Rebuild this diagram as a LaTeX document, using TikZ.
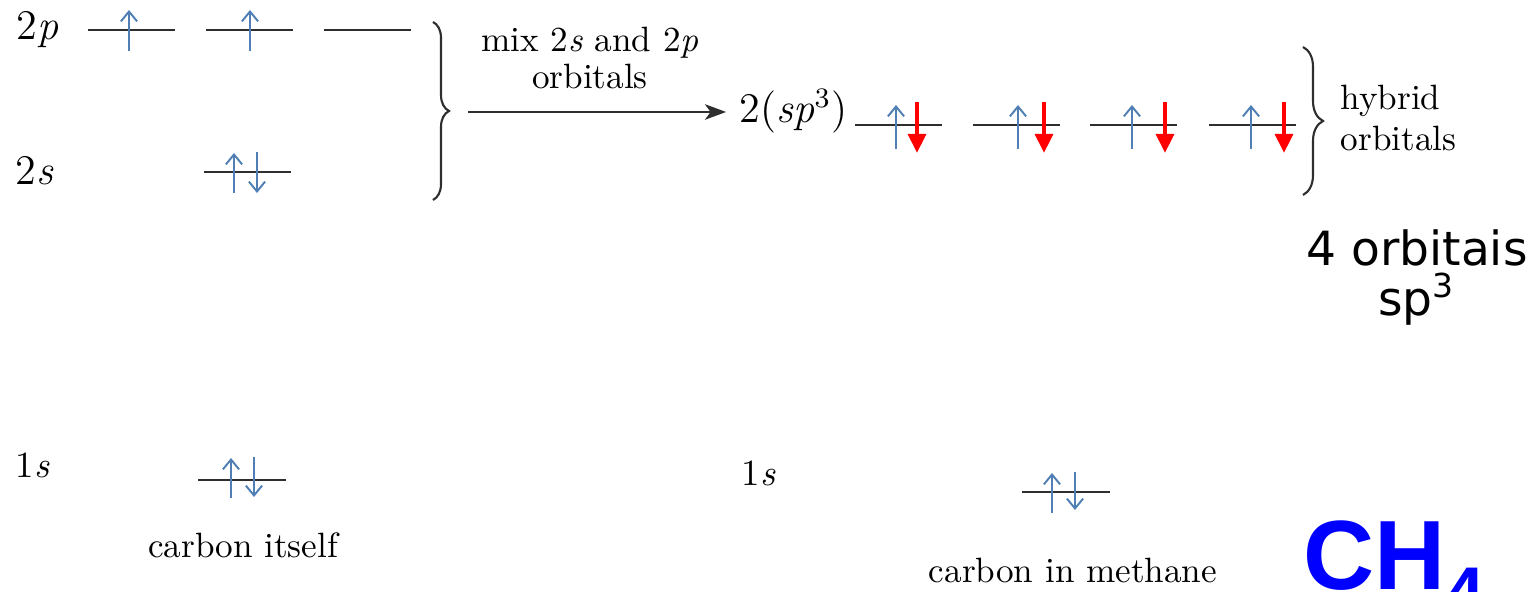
\documentclass[tikz,border=0pt]{standalone}
\usepackage{fontspec}
\newfontfamily\notesans{DejaVu Sans}
\newfontfamily\formulasans{Liberation Sans}
\usepackage{tikz}
\usetikzlibrary{arrows.meta,positioning,calc,decorations.pathreplacing}
\definecolor{levelInk}{HTML}{2E2E2E}
\definecolor{spinBlue}{HTML}{4F7FB5}
\definecolor{spinRed}{HTML}{FF0000}
\definecolor{methaneBlue}{HTML}{0000FF}

\begin{document}
\begin{tikzpicture}[x=0.01cm,y=-0.01cm,font=\fontsize{10}{11}\selectfont,
    orbline/.style={draw=levelInk,line width=0.75pt},
    spin/.style={draw=spinBlue,line width=0.55pt,-{Straight Barb[length=2.8pt,width=4.6pt]}},
    spinred/.style={draw=spinRed,line width=1.2pt,-{Triangle[length=5.4pt,width=5pt]}},
    shelllabel/.style={font=\fontsize{12}{14}\selectfont,inner sep=0pt,anchor=base west},
    captext/.style={inner sep=0pt,anchor=base},
    mixarrow/.style={draw=levelInk,line width=0.65pt,-{Stealth[length=6pt,width=4.4pt,inset=1.6pt]}},
    orbbrace/.style={draw=levelInk,line width=0.6pt,decorate,decoration={brace,amplitude=#1}}]
  \useasboundingbox (0,0) rectangle (1536,592);
  \clip (0,0) rectangle (1536,592);
  \fill[white] (0,0) rectangle (1536,592);

  % carbon itself
  \node[shelllabel] (lab2p) at (16,40) {2\textit{p}};
  \node[shelllabel] (lab2s) at (15,185) {2\textit{s}};
  \node[shelllabel,font=\fontsize{10.5}{12}\selectfont] (lab1s) at (15,478) {1\textit{s}};

  \foreach \xa [count=\i] in {88,206,324}
    \draw[orbline] (\xa,30) coordinate (p\i) -- ++(87,0);
  \draw[spin] ($(p1)+(41,21)$) -- ++(0,-41);
  \draw[spin] ($(p2)+(44,21)$) -- ++(0,-41);

  \draw[orbline] (204,172) coordinate (s2) -- ++(87,0);
  \draw[spin] ($(s2)+(30,21)$) -- ++(0,-40);
  \draw[spin] ($(s2)+(53,-20)$) -- ++(0,41);

  \draw[orbline] (198,480) coordinate (s1) -- ++(88,0);
  \draw[spin] ($(s1)+(33,18)$) -- ++(0,-40);
  \draw[spin] ($(s1)+(56,-23)$) -- ++(0,40);

  \node[captext] (itself) at (243,558) {carbon itself};

  % mixing
  \draw[orbbrace=0.16cm] (433,22) -- (433,200);
  \coordinate (bracetip) at (449,112);
  \node[shelllabel,anchor=base east] (sp) at (848,123) {2(\textit{sp}$^3$)};
  \draw[mixarrow,shorten <=0.19cm,shorten >=0.13cm] (bracetip) -- (sp.west |- bracetip);
  \node[align=center,inner sep=0pt,anchor=south,font=\fontsize{10}{10.6}\selectfont]
    (mixlab) at (590,90) {mix 2\textit{s} and 2\textit{p}\\orbitals};

  % carbon in methane
  \foreach \xa/\du/\dd [count=\i] in {855/41/62,973/45/71,1090/42/75,1209/42/75}{
    \draw[orbline] (\xa,125) coordinate (h\i) -- ++(87,0);
    \draw[spin] ($(h\i)+(\du,24)$) -- ++(0,-44);
    \draw[spinred] ($(h\i)+(\dd,-23)$) -- ++(0,51);
  }
  \draw[orbbrace=0.2cm] (1303,47) -- (1303,195);
  \coordinate (hybtip) at (1323,118);
  \node[right=0.17cm of hybtip,align=left,inner sep=0pt,font=\fontsize{10}{11.4}\selectfont]
    (hyblab) {hybrid\\orbitals};

  \node[font=\notesans\fontsize{13.4}{14.2}\selectfont,align=center,inner sep=0pt,anchor=north]
    (fourorb) at (1417,229) {4 orbitais\\sp\textsuperscript{3}};

  \node[shelllabel,font=\fontsize{10.5}{12}\selectfont] (lab1sm) at (741,486) {1\textit{s}};
  \draw[orbline] (1022,492) coordinate (m1) -- ++(88,0);
  \draw[spin] ($(m1)+(30,21)$) -- ++(0,-40);
  \draw[spin] ($(m1)+(53,-20)$) -- ++(0,38);
  \node[captext] (methcap) at (1073,583) {carbon in methane};

  \node[font=\formulasans\bfseries\fontsize{28}{30}\selectfont,text=methaneBlue,inner sep=0pt,anchor=base west]
    (methane) at (1303,590) {CH\raisebox{-7.5pt}{\fontsize{20}{20}\selectfont 4}};
\end{tikzpicture}
\end{document}
